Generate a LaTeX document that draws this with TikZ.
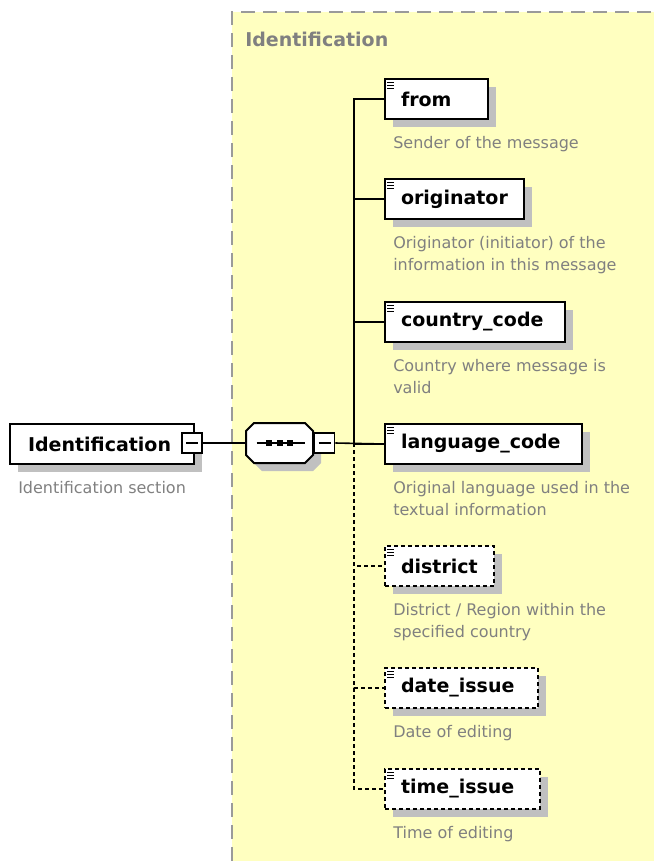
\documentclass[tikz,border=0pt]{standalone}
\usepackage{fontspec}
\setmainfont{DejaVu Sans}
\usetikzlibrary{shadows}
\definecolor{PY}{HTML}{FFFFC0}
\definecolor{SH}{HTML}{C0C0C0}
\definecolor{TG}{HTML}{808080}
\definecolor{BG}{HTML}{9A9A9A}
\newcommand\namefont{\fontsize{14.25}{17}\selectfont\bfseries}
\newcommand\descfont{\fontsize{12}{16.5}\selectfont}
\newcommand\octpath{(-33.5,-12) -- (-25.5,-20) -- (25.5,-20) -- (33.5,-12) -- (33.5,12) -- (25.5,20) -- (-25.5,20) -- (-33.5,12) -- cycle}

\begin{document}
\begin{tikzpicture}[x=0.75pt, y=-0.75pt,
    shade/.style={drop shadow={shadow xshift=6pt, shadow yshift=-6pt, fill=SH, opacity=1}},
    elem/.style={draw, line width=1.5pt, fill=white, anchor=north west, minimum height=30pt,
        inner xsep=0pt, inner ysep=0pt, text width=#1, align=left, font=\namefont, shade},
    opt/.style={elem=#1, dash pattern=on 3pt off 2.25pt},
    desc/.style={anchor=base west, font=\descfont, text=TG, align=left, inner sep=0pt},
    minus/.style={draw, fill=white, line width=1.2pt, minimum size=15pt, inner sep=0pt},
    wire/.style={line width=1.2pt}]
    \useasboundingbox (0,0) rectangle (654,861);
    % panel
    \fill[PY] (232,12) rectangle (654,861);
    \draw[BG, line width=1.5pt, dash pattern=on 10.5pt off 6pt] (232,861) -- (232,12) -- (654,12);
    \node[anchor=base west, font=\namefont, text=TG, inner sep=0pt] (title) at (245,46) {Identification};
    % root and sequence
    \node[elem=138pt] (root) at (9,423) {\hspace*{13.5pt}Identification};
    \node[minus] (rm) at (192,443) {};
    \node[desc] (rootd) at (18,493) {Identification section};
    \node[minimum width=50.25pt, minimum height=30pt, inner sep=0pt] (seq) at (279.5,443) {};
    \fill[SH, shift={(seq.center)}, shift={(8,8)}] \octpath;
    \filldraw[fill=white, line width=1.5pt, shift={(seq.center)}] \octpath;
    \node[minus] (sm) at (324.5,443) {};
    \draw[line width=1.2pt, shift={(seq.center)}] (-23,0) -- (25,0);
    \foreach \d in {-11,0,10}
        \fill[shift={(seq.center)}] ({\d-3},-3) rectangle ({\d+3},3);
    \foreach \m in {rm,sm}
        \draw[line width=1.2pt, shift={(\m.center)}] (-6,0) -- (6,0);
    % children
    \node[elem=77.25pt] (from) at (384,78) {\hspace*{12pt}from};
    \node[desc] (fromd) at (393,148) {Sender of the message};
    \node[elem=104.25pt] (originator) at (384,178) {\hspace*{12pt}originator};
    \node[desc] (originatord) at (393,270) {Originator (initiator) of the\\information in this message};
    \node[elem=135pt] (country) at (384,301) {\hspace*{12pt}country\_code};
    \node[desc] (countryd) at (393,393) {Country where message is\\valid};
    \node[elem=147.75pt] (language) at (384,423) {\hspace*{12pt}language\_code};
    \node[desc] (languaged) at (393,515) {Original language used in the\\textual information};
    \node[opt=81.75pt] (district) at (384,545) {\hspace*{12pt}district};
    \node[desc] (districtd) at (393,637) {District / Region within the\\specified country};
    \node[opt=114.75pt] (date) at (384,667) {\hspace*{12pt}date\_issue};
    \node[desc] (dated) at (393,737) {Date of editing};
    \node[opt=116.25pt] (time) at (384,768) {\hspace*{12pt}time\_issue};
    \node[desc] (timed) at (393,838) {Time of editing};
    \foreach \e in {from,originator,country,language,district,date,time}
        \foreach \k in {0,1,2}
            \draw[line width=0.75pt, shift={(\e.north west)}] (3,{4+3*\k}) -- ++(7,0);
    % connectors
    \coordinate (jn) at (354,443);
    \foreach \e in {from,originator,country,language}
        \draw[wire] (jn) |- (\e.west);
    \foreach \e in {district,date,time}
        \draw[wire, dash pattern=on 3pt off 2.25pt] (jn) |- (\e.west);
    \draw[wire] (rm.east) -- (seq.west);
    \draw[wire] (sm.east) -- (language.west);
\end{tikzpicture}
\end{document}
